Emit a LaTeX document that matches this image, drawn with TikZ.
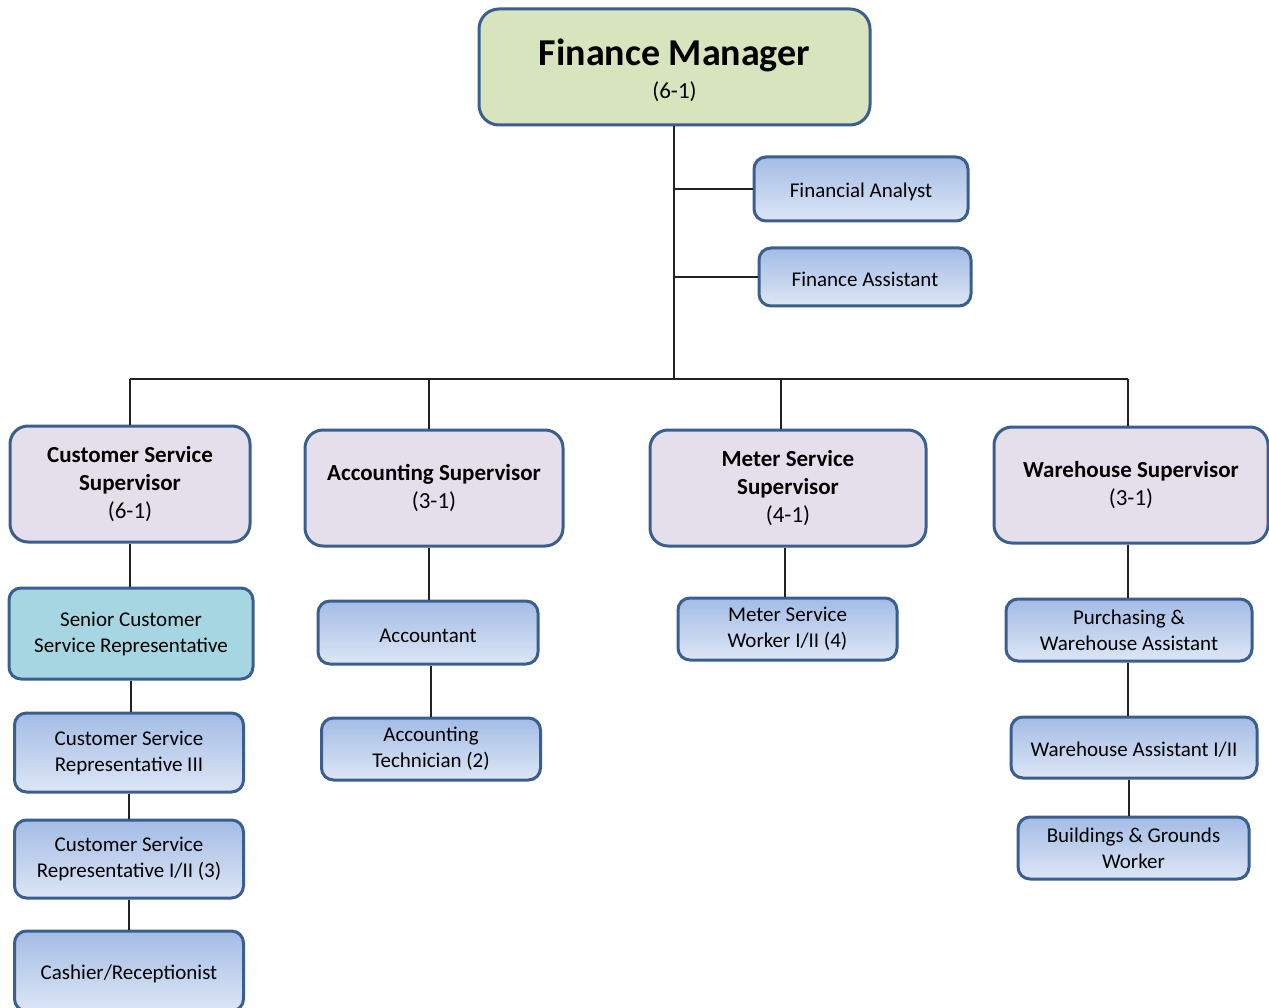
\documentclass[tikz,border=0pt]{standalone}
\usepackage{fontspec}
\setmainfont{Carlito}
\definecolor{bord}{HTML}{3B5E91}
\definecolor{gtop}{HTML}{A3BCE5}
\definecolor{gbot}{HTML}{DDE6F6}
\definecolor{supfill}{HTML}{E5DFEC}
\definecolor{fmfill}{HTML}{D7E4BD}
\definecolor{tealfill}{HTML}{A6D6E2}
\definecolor{conn}{HTML}{222222}
\begin{document}
\begin{tikzpicture}[x=1pt,y=-1pt,
  box/.style={draw=bord, line width=3pt, rounded corners=12pt, align=center, inner sep=0pt,
    top color=gtop, bottom color=gbot, text=black,
    font=\fontsize{21}{26}\selectfont, execute at begin node={\rule{0pt}{19.5pt}}},
  sup/.style={draw=bord, line width=3pt, rounded corners=18pt, align=center, inner sep=0pt,
    fill=supfill, text=black, font=\fontsize{23}{28}\selectfont, execute at begin node={\rule{0pt}{21.5pt}}},
  line/.style={conn, line width=1.6pt}]
\useasboundingbox (0,0) rectangle (1269,1008);
% top
\node[draw=bord, line width=3pt, rounded corners=20pt, fill=fmfill, minimum width=391pt, minimum height=116pt, align=center, inner sep=0pt] (fm) at (674.5,67)
  {\rule{0pt}{33pt}{\fontsize{38}{40}\selectfont\bfseries Finance Manager}\\[9pt]{\fontsize{23}{24}\selectfont (6-1)}};
\node[box, minimum width=214pt, minimum height=64pt] (fa) at (861,189) {Financial Analyst};
\node[box, minimum width=212pt, minimum height=58pt] (fasst) at (865,277) {Finance Assistant};
% supervisors
\node[sup, minimum width=240pt, minimum height=116pt] (css) at (130,484) {\bfseries Customer Service\\\bfseries Supervisor\\(6-1)};
\node[sup, minimum width=258pt, minimum height=116pt] (as) at (434,488) {\bfseries Accounting Supervisor\\(3-1)};
\node[sup, minimum width=276pt, minimum height=116pt] (mss) at (788,488) {\bfseries Meter Service\\\bfseries Supervisor\\(4-1)};
\node[sup, minimum width=274pt, minimum height=116pt] (ws) at (1131,485) {\bfseries Warehouse Supervisor\\(3-1)};
% column 1
\node[box, top color=tealfill, bottom color=tealfill, minimum width=244pt, minimum height=91pt] (scsr) at (131,633.5) {Senior Customer\\Service Representative};
\node[box, minimum width=229pt, minimum height=79pt] (csr3) at (129,752.5) {Customer Service\\Representative III};
\node[box, minimum width=229pt, minimum height=78pt] (csr12) at (129,859) {Customer Service\\Representative I/II (3)};
\node[box, minimum width=229pt, minimum height=80pt] (cash) at (129,971) {Cashier/Receptionist};
% column 2
\node[box, minimum width=220pt, minimum height=63pt] (acc) at (428,632.5) {Accountant};
\node[box, minimum width=219pt, minimum height=62pt] (acct) at (431,749) {Accounting\\Technician (2)};
% column 3
\node[box, minimum width=219pt, minimum height=62pt] (msw) at (787.5,629) {Meter Service\\Worker I/II (4)};
% column 4
\node[box, minimum width=246pt, minimum height=62pt] (pwa) at (1129,630) {Purchasing \&\\Warehouse Assistant};
\node[box, minimum width=246pt, minimum height=61pt] (wa) at (1134,747.5) {Warehouse Assistant I/II};
\node[box, minimum width=231pt, minimum height=62pt] (bgw) at (1133.5,848) {Buildings \& Grounds\\Worker};
% connectors
\coordinate (bus) at (674,379);
\coordinate (d1) at (130,379);
\coordinate (d2) at (429,379);
\coordinate (d3) at (781,379);
\coordinate (d4) at (1128,379);
\draw[line] (fm.south -| bus) -- (bus);
\draw[line] (fa.west) -- (fa.west -| bus);
\draw[line] (fasst.west) -- (fasst.west -| bus);
\draw[line] (d1) -- (d4);
\draw[line] (d1) -- (d1 |- css.north);
\draw[line] (d2) -- (d2 |- as.north);
\draw[line] (d3) -- (d3 |- mss.north);
\draw[line] (d4) -- (d4 |- ws.north);
\draw[line] (css.south -| d1) -- (d1 |- scsr.north);
\draw[line] (scsr.south) -- (scsr.south |- csr3.north);
\draw[line] (csr3.south) -- (csr3.south |- csr12.north);
\draw[line] (csr12.south) -- (csr12.south |- cash.north);
\draw[line] (d2 |- as.south) -- (d2 |- acc.north);
\draw[line] (acct.north) -- (acct.north |- acc.south);
\draw[line] (msw.north -| 785,0) -- (785,0 |- mss.south);
\draw[line] (d4 |- ws.south) -- (d4 |- pwa.north);
\draw[line] (d4 |- pwa.south) -- (d4 |- wa.north);
\draw[line] (bgw.north -| 1129,0) -- (1129,0 |- wa.south);
\end{tikzpicture}
\end{document}
